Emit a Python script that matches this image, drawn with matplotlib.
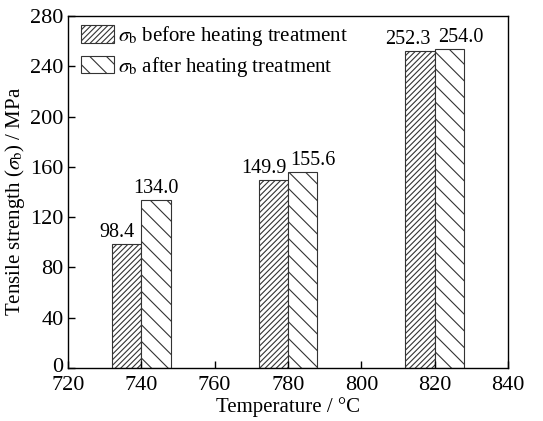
import matplotlib
matplotlib.use("Agg")
import matplotlib.pyplot as plt
import matplotlib.transforms as mtransforms
import numpy as np

temps = [740, 780, 820]
before = [98.4, 149.9, 252.3]
after = [134.0, 155.6, 254.0]
before_labels = ["98.4", "149.9", "252.3"]
after_labels = ["134.0", "155.6", "254.0"]

plt.rcParams['font.family'] = ['Liberation Serif', 'DejaVu Serif']
plt.rcParams['mathtext.fontset'] = 'stix'
plt.rcParams['hatch.linewidth'] = 0.8
plt.rcParams['hatch.color'] = '#333333'

fig = plt.figure(figsize=(5.43, 4.21), dpi=100)
ax = fig.add_axes([0.125, 0.126, 0.811, 0.836])

w = 8
x = np.array(temps)
ax.bar(x - w/2, before, width=w, facecolor='white', edgecolor='#333333',
       hatch='//////', linewidth=0.8, label=r'$\sigma_\mathrm{b}$ before heating treatment')
ax.bar(x + w/2, after, width=w, facecolor='white', edgecolor='#333333',
       hatch='\\\\', linewidth=0.8, label=r'$\sigma_\mathrm{b}$ after heating treatment')

offs_b = [-2.7, -2.5, -3.3]
offs_a = [0, 2.8, 3.0]
for xi, v, t, o in zip(x, before, before_labels, offs_b):
    ax.text(xi - w/2 + o, v + 1.5, t, ha='center', va='bottom', fontsize=14.5)
for xi, v, t, o in zip(x, after, after_labels, offs_a):
    ax.text(xi + w/2 + o, v + 1.5, t, ha='center', va='bottom', fontsize=14.5)

ax.set_xlim(720, 840)
ax.set_ylim(0, 280)
ax.set_xticks(np.arange(720, 841, 20))
ax.set_yticks(np.arange(0, 281, 40))
ax.tick_params(direction='in', labelsize=16, length=5, width=1)
ax.tick_params(axis='x', pad=5.5)
ax.tick_params(axis='y', pad=3)
for s in ax.spines.values():
    s.set_linewidth(1)
ax.set_xlabel('Temperature / °C', fontsize=15, labelpad=2)
ax.set_ylabel(r'Tensile strength ($\sigma_\mathrm{b}$) / MPa', fontsize=15)
ax.yaxis.set_label_coords(-0.092, 0.474)

# nudge the "0" y tick label up slightly so it clears the "720" label
lab0 = ax.yaxis.get_major_ticks()[0].label1
lab0.set_transform(lab0.get_transform() +
                   mtransforms.ScaledTranslation(0, 3/100, fig.dpi_scale_trans))

leg = ax.legend(loc='upper left', bbox_to_anchor=(0.01, 1.0), fontsize=15, frameon=False,
                handlelength=1.6, handleheight=0.9, handletextpad=0.2,
                borderaxespad=0.2, borderpad=0.2, labelspacing=0.3)

fig.savefig('out.png', dpi=100)
